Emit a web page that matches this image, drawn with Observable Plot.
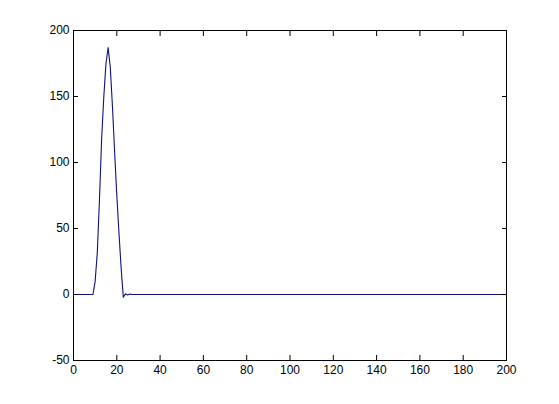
<!DOCTYPE html>
<html>
<head>
<meta charset="utf-8">
<script src="https://cdn.jsdelivr.net/npm/d3@7"></script>
<script src="https://cdn.jsdelivr.net/npm/@observablehq/plot@0.6"></script>
<style>
  html, body { margin: 0; padding: 0; background: #fff; }
</style>
</head>
<body>
<div id="chart"></div>
<script>
// Signal samples (flat at zero outside the pulse)
const xs = [0, 9, 10, 11, 12, 13, 14, 15, 16, 17, 18, 19, 20, 21, 22, 23, 24, 25, 26, 27, 200];
const ys = [0, 0, 10, 32, 72, 118, 150, 175, 187, 172, 142, 108, 75, 47, 20, -2, 0.5, -0.4, 0.3, 0, 0];

const xTicks = [0, 20, 40, 60, 80, 100, 120, 140, 160, 180, 200];
const yTicks = [-50, 0, 50, 100, 150, 200];

const data = xs.map((x, i) => ({x, y: ys[i]}));
const blank = () => "";

const chart = Plot.plot({
  width: 559,
  height: 404,
  marginLeft: 73,
  marginRight: 53,
  marginTop: 30,
  marginBottom: 44,
  style: {fontFamily: "Liberation Sans, Arial, sans-serif", fontSize: "12px", background: "#fff", color: "#000"},
  x: {domain: [0, 200]},
  y: {domain: [-50, 200]},
  marks: [
    Plot.line(data, {x: "x", y: "y", stroke: "#10107a", strokeWidth: 1.1}),
    Plot.axisX(xTicks, {anchor: "bottom", tickSize: 0, tickPadding: 5, label: null, tickFormat: d => String(d)}),
    Plot.axisX(xTicks, {anchor: "bottom", tickSize: -5, label: null, tickFormat: blank}),
    Plot.axisX(xTicks, {anchor: "top", tickSize: -5, label: null, tickFormat: blank}),
    Plot.axisY(yTicks, {anchor: "left", tickSize: 0, tickPadding: 4, label: null, tickFormat: d => String(d)}),
    Plot.axisY(yTicks, {anchor: "left", tickSize: -5, label: null, tickFormat: blank}),
    Plot.axisY(yTicks, {anchor: "right", tickSize: -5, label: null, tickFormat: blank}),
    Plot.frame({stroke: "#000", strokeWidth: 1})
  ]
});
document.getElementById("chart").appendChild(chart);
</script>
</body>
</html>
